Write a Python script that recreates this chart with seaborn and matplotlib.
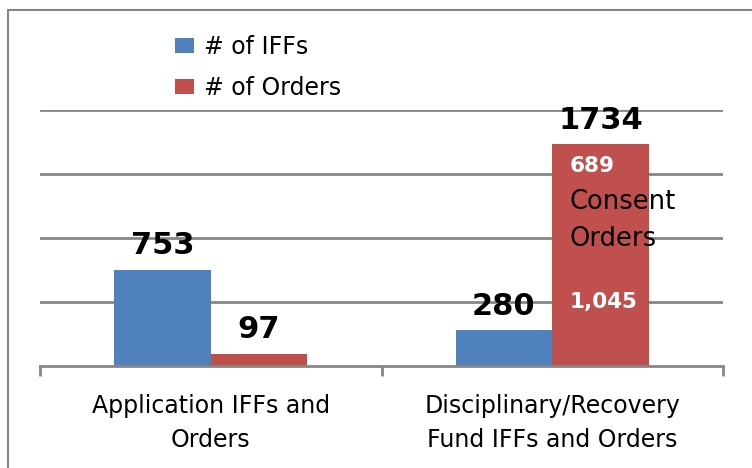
import numpy as np
import pandas as pd
import seaborn as sns
import matplotlib.pyplot as plt
from matplotlib.patches import Rectangle

categories = ["Application IFFs and\nOrders", "Disciplinary/Recovery\nFund IFFs and Orders"]
series = ["# of IFFs", "# of Orders"]
iffs = [753, 280]
orders = [97, 1734]
consent_orders = 689
other_orders = 1045

blue = "#4F81BD"
red = "#C0504D"
grid_gray = "#868686"

df = pd.DataFrame({
    "category": categories * 2,
    "series": [series[0]] * 2 + [series[1]] * 2,
    "count": iffs + orders,
})

sns.set_style("white")
plt.rcParams["font.family"] = ["DejaVu Sans"]
plt.rcParams["text.color"] = "black"
plt.rcParams["xtick.labelcolor"] = "black"

fig = plt.figure(figsize=(7.52, 4.68), dpi=100)
ax = fig.add_axes([40 / 752, 102 / 468, 683 / 752, 256 / 468])

sns.barplot(data=df, x="category", y="count", hue="series", palette=[blue, red],
            width=0.566, saturation=1, linewidth=0, ax=ax, legend=True)

ax.set_ylim(0, 2000)
ax.set_xlim(-0.5, 1.5)
ax.set_yticks([500, 1000, 1500, 2000])
ax.set_yticklabels([])
ax.tick_params(axis="y", length=0)
ax.yaxis.grid(True, color=grid_gray, lw=2)
ax.set_axisbelow(True)
for s in ["left", "right", "top"]:
    ax.spines[s].set_visible(False)
ax.spines["bottom"].set_color(grid_gray)
ax.spines["bottom"].set_linewidth(2)
ax.set_xlabel("")
ax.set_ylabel("")
ax.tick_params(axis="x", which="major", length=0, pad=20, labelsize=17)
ax.set_xticks([-0.5, 0.5, 1.5], minor=True)
ax.tick_params(axis="x", which="minor", bottom=True, length=7, width=2,
               color=grid_gray, direction="out")
for t in ax.get_xticklabels():
    t.set_linespacing(1.55)

# value labels above bars
for cont in ax.containers:
    for bar in cont:
        h = bar.get_height()
        ax.annotate(f"{int(h)}", (bar.get_x() + bar.get_width() / 2, h),
                    xytext=(0, 11), textcoords="offset points",
                    ha="center", va="baseline", fontsize=22, fontweight="bold")

# breakdown text inside the tall red bar
x0 = 1.05
ax.text(x0, other_orders + consent_orders * 0.75, f"{consent_orders}", color="white",
        fontsize=15.5, fontweight="bold", va="center", ha="left")
ax.text(x0, other_orders + consent_orders * 0.34, "Consent", color="black",
        fontsize=18.5, va="center", ha="left")
ax.text(x0, other_orders - 50, "Orders", color="black",
        fontsize=18.5, va="center", ha="left")
ax.text(x0, other_orders / 2 - 20, f"{other_orders:,}", color="white",
        fontsize=15.5, fontweight="bold", va="center", ha="left")

leg = ax.legend(loc="upper left", bbox_to_anchor=(154 / 752, 1 - 14 / 468),
                bbox_transform=fig.transFigure, frameon=False, fontsize=17,
                handlelength=0.8, handleheight=0.6, handletextpad=0.4,
                labelspacing=0.72)

fig.patches.append(Rectangle((8 / 752, -0.1), 1.0, 1.1 - 10 / 468, transform=fig.transFigure,
                             fill=False, edgecolor=grid_gray, lw=1.5))

fig.savefig("out.png", dpi=100)
